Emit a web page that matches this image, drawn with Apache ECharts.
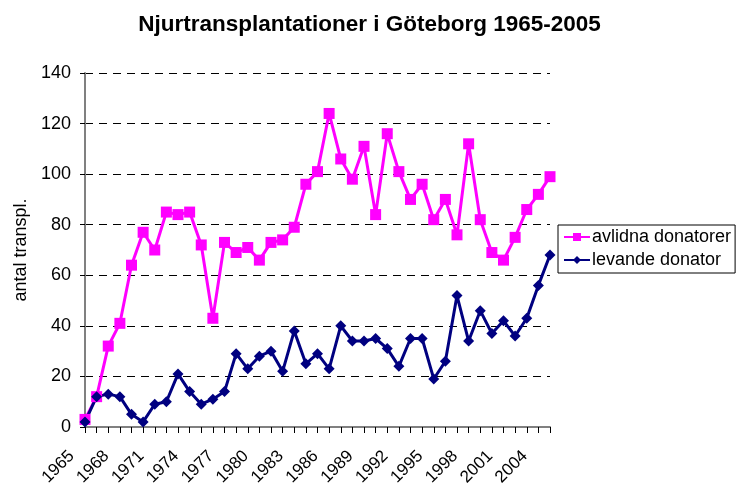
<!DOCTYPE html>
<html>
<head>
<meta charset="utf-8">
<script src="https://cdn.jsdelivr.net/npm/echarts@6/dist/echarts.min.js"></script>
<style>
html,body{margin:0;padding:0;background:#fff;}
#chart{width:739px;height:485px;}
</style>
</head>
<body>
<div id="chart"></div>
<script>
var years = [];
for (var y = 1965; y <= 2005; y++) { years.push(String(y)); }

var avlidna = [3,12,32,41,64,77,70,85,84,85,72,43,73,69,71,66,73,74,79,96,101,124,106,98,111,84,116,101,90,96,82,90,76,112,82,69,66,75,86,92,99];
var levande = [2,12,13,12,5,2,9,10,21,14,9,11,14,29,23,28,30,22,38,25,29,23,40,34,34,35,31,24,35,35,19,26,52,34,46,37,42,36,43,56,68];

var myChart = echarts.init(document.getElementById('chart'));
var option = {
    animation: false,
    title: {
        text: 'Njurtransplantationer i Göteborg 1965-2005',
        left: 'center',
        top: 8,
        textStyle: {
            fontFamily: 'Liberation Sans',
            fontSize: 22.5,
            fontWeight: 'bold',
            color: '#000'
        }
    },
    legend: {
        orient: 'vertical',
        left: 558,
        top: 225,
        padding: [3, 4, 4, 5],
        itemGap: 5,
        itemWidth: 26,
        itemHeight: 10,
        borderColor: '#000',
        borderWidth: 1,
        borderRadius: 0,
        textStyle: {
            fontFamily: 'Liberation Sans',
            fontSize: 18,
            color: '#000',
            padding: [0, 0, 0, -3]
        },
        data: ['avlidna donatorer', 'levande donator']
    },
    grid: {
        left: 85,
        right: 189,
        top: 73,
        bottom: 58,
        outerBoundsMode: 'none'
    },
    xAxis: {
        type: 'category',
        boundaryGap: false,
        data: years,
        axisLine: { lineStyle: { color: '#808080', width: 2 } },
        axisTick: { interval: 0, length: 6, lineStyle: { color: '#000' } },
        axisLabel: {
            interval: 2,
            rotate: 45,
            fontFamily: 'Liberation Sans',
            fontSize: 17,
            color: '#000',
            margin: 13,
            padding: [0, 19, 0, 0]
        }
    },
    yAxis: {
        type: 'value',
        min: 0,
        max: 140,
        interval: 20,
        name: 'antal transpl.',
        nameLocation: 'middle',
        nameGap: 55,
        nameTextStyle: {
            fontFamily: 'Liberation Sans',
            fontSize: 18,
            color: '#000'
        },
        axisLine: { show: true, lineStyle: { color: '#808080', width: 2 } },
        axisTick: { show: true, length: 5, lineStyle: { color: '#000' } },
        axisLabel: {
            fontFamily: 'Liberation Sans',
            fontSize: 18,
            color: '#000',
            margin: 14
        },
        splitLine: {
            lineStyle: { color: '#000', type: [8, 6], width: 1 }
        }
    },
    series: [
        {
            name: 'avlidna donatorer',
            type: 'line',
            data: avlidna,
            symbol: 'rect',
            symbolSize: 11,
            showAllSymbol: true,
            lineStyle: { color: '#ff00ff', width: 3 },
            itemStyle: { color: '#ff00ff' }
        },
        {
            name: 'levande donator',
            type: 'line',
            data: levande,
            symbol: 'diamond',
            symbolSize: 11,
            showAllSymbol: true,
            lineStyle: { color: '#000080', width: 3 },
            itemStyle: { color: '#000080' }
        }
    ]
};
myChart.setOption(option);
</script>
</body>
</html>
